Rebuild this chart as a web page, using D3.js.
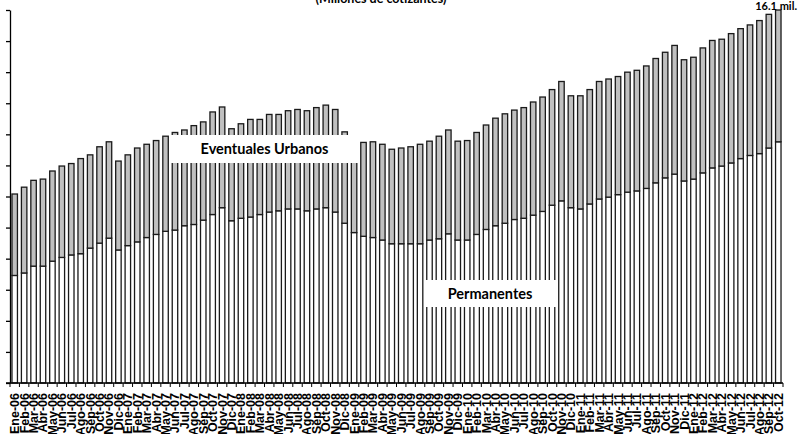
<!DOCTYPE html>
<html>
<head>
<meta charset="utf-8">
<script src="https://cdn.jsdelivr.net/npm/d3@7"></script>
<style>
  html, body { margin: 0; padding: 0; background: #fff; }
  svg { display: block; }
</style>
</head>
<body>
<svg id="chart" width="798" height="434"></svg>
<script>
const categories = [
  "Ene-06","Feb-06","Mar-06","Abr-06","May-06","Jun-06","Jul-06","Ago-06","Sep-06","Oct-06","Nov-06","Dic-06",
  "Ene-07","Feb-07","Mar-07","Abr-07","May-07","Jun-07","Jul-07","Ago-07","Sep-07","Oct-07","Nov-07","Dic-07",
  "Ene-08","Feb-08","Mar-08","Abr-08","May-08","Jun-08","Jul-08","Ago-08","Sep-08","Oct-08","Nov-08","Dic-08",
  "Ene-09","Feb-09","Mar-09","Abr-09","May-09","Jun-09","Jul-09","Ago-09","Sep-09","Oct-09","Nov-09","Dic-09",
  "Ene-10","Feb-10","Mar-10","Abr-10","May-10","Jun-10","Jul-10","Ago-10","Sep-10","Oct-10","Nov-10","Dic-10",
  "Ene-11","Feb-11","Mar-11","Abr-11","May-11","Jun-11","Jul-11","Ago-11","Sep-11","Oct-11","Nov-11","Dic-11",
  "Ene-12","Feb-12","Mar-12","Abr-12","May-12","Jun-12","Jul-12","Ago-12","Sep-12","Oct-12"
];

// Millones de cotizantes
const permanentes = [
  11.73,11.77,11.88,11.88,11.96,12.02,12.06,12.08,12.17,12.25,12.33,12.14,
  12.21,12.27,12.34,12.39,12.44,12.46,12.53,12.55,12.62,12.71,12.82,12.61,
  12.65,12.67,12.71,12.75,12.77,12.80,12.80,12.77,12.80,12.82,12.75,12.57,
  12.42,12.36,12.34,12.30,12.24,12.24,12.24,12.24,12.30,12.32,12.40,12.30,
  12.30,12.39,12.47,12.53,12.57,12.63,12.65,12.70,12.76,12.86,12.93,12.82,
  12.80,12.88,12.96,12.99,13.03,13.07,13.09,13.13,13.22,13.30,13.36,13.25,
  13.28,13.38,13.46,13.49,13.54,13.61,13.66,13.69,13.78,13.88
];
const eventualesUrbanos = [
  1.31,1.38,1.38,1.40,1.45,1.47,1.47,1.53,1.50,1.55,1.55,1.43,
  1.46,1.51,1.50,1.51,1.53,1.57,1.54,1.59,1.58,1.65,1.62,1.48,
  1.52,1.57,1.53,1.57,1.55,1.58,1.60,1.61,1.63,1.65,1.65,1.47,
  1.44,1.51,1.54,1.54,1.52,1.54,1.56,1.60,1.59,1.65,1.67,1.59,
  1.60,1.64,1.68,1.73,1.76,1.76,1.78,1.82,1.84,1.86,1.92,1.80,
  1.82,1.84,1.89,1.90,1.90,1.93,1.94,1.97,2.00,2.02,2.07,1.95,
  1.96,2.01,2.05,2.04,2.08,2.09,2.10,2.14,2.15,2.14
];
const yTicks = [10,10.5,11,11.5,12,12.5,13,13.5,14,14.5,15,15.5,16];
const seriesNames = ["Permanentes","Eventuales Urbanos"];
const titleText = "(Millones de cotizantes)";
const lastLabel = "16.1 mil.";

const rows = categories.map((c, i) => ({cat: c, "Permanentes": permanentes[i], "Eventuales Urbanos": eventualesUrbanos[i]}));

const svg = d3.select("#chart");
const FONT = "Lato, 'Open Sans', 'DejaVu Sans', sans-serif";
const AXFONT = "'Liberation Sans', Arial, sans-serif";

const x = d3.scaleBand().domain(categories).range([10, 783]).paddingInner(0.42).paddingOuter(0.21);
const y = d3.scaleLinear().domain([10, 16]).range([383, 10]).clamp(true);

const stacked = d3.stack().keys(seriesNames)(rows);
const fills = {"Permanentes": "#ffffff", "Eventuales Urbanos": "#c0c0c0"};

// bars
stacked.forEach(layer => {
  svg.append("g").selectAll("rect").data(layer).join("rect")
    .attr("x", d => x(d.data.cat))
    .attr("width", x.bandwidth())
    .attr("y", d => y(d[1]))
    .attr("height", d => y(d[0]) - y(d[1]))
    .attr("fill", fills[layer.key])
    .attr("stroke", "#1a1a1a")
    .attr("stroke-width", 1.3);
});

// y axis (labels hidden by crop in the reference)
const yAxis = d3.axisLeft(y).tickValues(yTicks).tickFormat("").tickSize(4).tickSizeOuter(0);
const gy = svg.append("g").attr("transform", "translate(10,0)").call(yAxis);
gy.selectAll("path, line").attr("stroke", "#000").attr("stroke-width", 1.3);

// x axis line and boundary ticks
const step = x.step();
const gx = svg.append("g");
gx.append("line").attr("x1", 6).attr("x2", 783).attr("y1", 383).attr("y2", 383)
  .attr("stroke", "#000").attr("stroke-width", 1.3);
const boundaries = categories.map(c => x(c) - step * x.paddingInner() / 2).concat([x(categories[categories.length - 1]) + x.bandwidth() + step * x.paddingInner() / 2]);
gx.selectAll("line.tk").data(boundaries).join("line").attr("class", "tk")
  .attr("x1", d => d).attr("x2", d => d).attr("y1", 383).attr("y2", 387)
  .attr("stroke", "#000").attr("stroke-width", 1);

// x labels
gx.selectAll("text").data(categories).join("text")
  .attr("transform", d => `translate(${x(d) + x.bandwidth() / 2 + 4.5},393) rotate(-90)`)
  .attr("text-anchor", "end")
  .attr("font-family", AXFONT).attr("font-weight", "bold").attr("font-size", 12.5)
  .attr("fill", "#000")
  .text(d => d);

// title (cropped at top, as in the reference)
svg.append("text").attr("x", 381).attr("y", 2.5).attr("text-anchor", "middle")
  .attr("font-family", FONT).attr("font-size", 12.5).attr("font-weight", "bold").attr("fill", "#000")
  .text(titleText);

// last value label
svg.append("text").attr("x", 797).attr("y", 9.5).attr("text-anchor", "end")
  .attr("font-family", FONT).attr("font-size", 11).attr("font-weight", "bold").attr("fill", "#000")
  .text(lastLabel);

// series labels in white boxes
const labels = [
  {name: seriesNames[1], x0: 170, y0: 135, w: 189, h: 28},
  {name: seriesNames[0], x0: 424, y0: 280, w: 132, h: 27}
];
labels.forEach(l => {
  svg.append("rect").attr("x", l.x0).attr("y", l.y0).attr("width", l.w).attr("height", l.h).attr("fill", "#fff");
  svg.append("text").attr("x", l.x0 + l.w / 2).attr("y", l.y0 + l.h / 2)
    .attr("dy", "0.35em").attr("text-anchor", "middle")
    .attr("font-family", FONT).attr("font-weight", "bold").attr("font-size", 14.5).attr("fill", "#000")
    .text(l.name);
});
</script>
</body>
</html>
